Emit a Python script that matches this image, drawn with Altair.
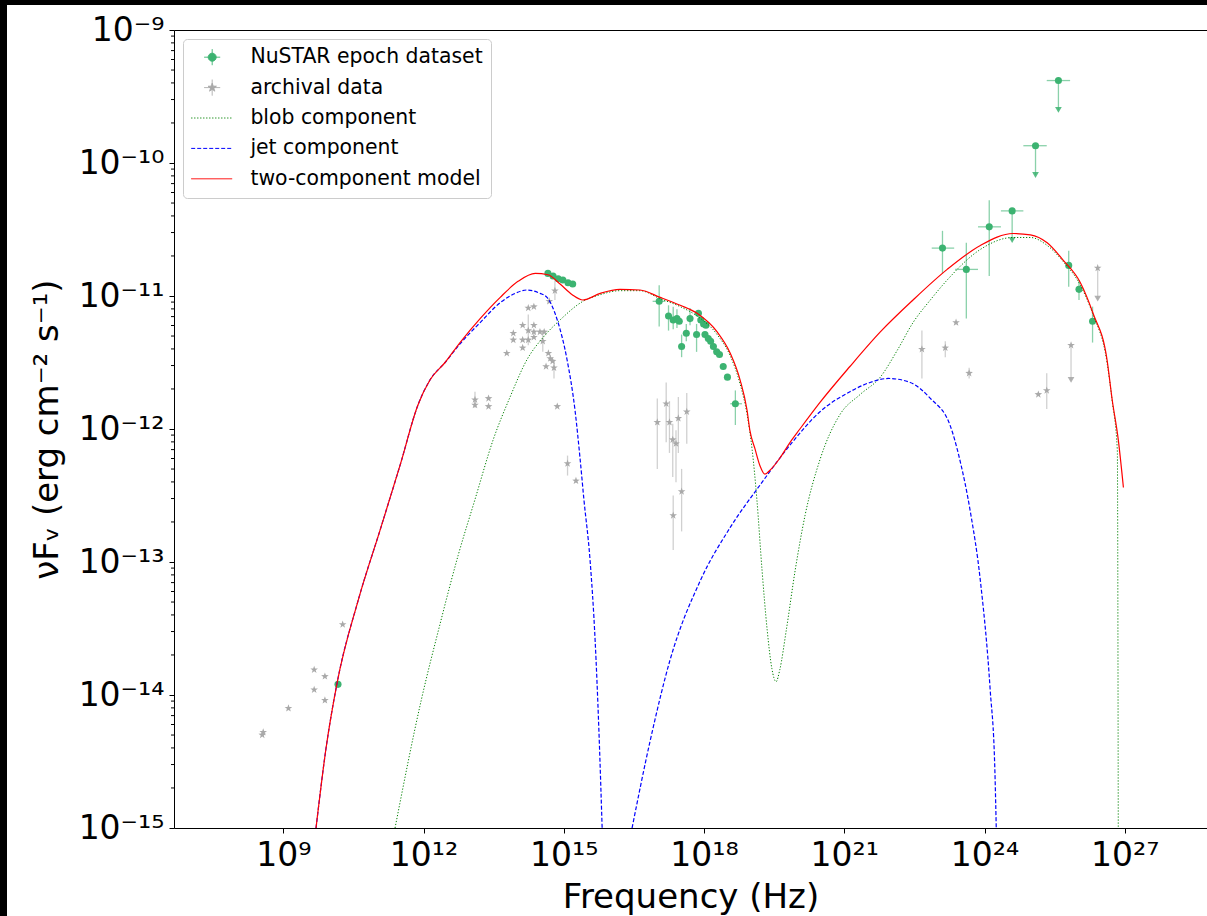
import altair as alt
import pandas as pd

# ---------------- axis ranges / ticks ----------------
X_MIN_EXP, X_MAX_EXP = 6.662, 28.758
Y_MIN, Y_MAX = 1e-15, 1e-9
x_tick_exps = [9, 12, 15, 18, 21, 24, 27]
x_tick_labels = ["10⁹", "10¹²", "10¹⁵", "10¹⁸", "10²¹", "10²⁴", "10²⁷"]
y_tick_exps = [-15, -14, -13, -12, -11, -10, -9]
y_tick_labels = ["10⁻¹⁵", "10⁻¹⁴", "10⁻¹³", "10⁻¹²", "10⁻¹¹", "10⁻¹⁰", "10⁻⁹"]
y_minor_mult = [2, 3, 4, 5, 6, 7, 8, 9]
y_minor_decades = [-15, -14, -13, -12, -11, -10]

# ---------------- model curves (log10 nu, log10 nuFnu) ----------------
model_lognu = [9.70, 9.91, 10.15, 10.60, 11.07, 11.50, 11.88, 12.14, 12.46, 12.78, 13.21, 13.64,
               14.02, 14.39, 14.66, 14.92, 15.18, 15.41, 15.78, 16.20, 16.63, 17.06, 17.49, 17.85,
               18.28, 18.56, 18.77, 18.92, 18.98, 19.09, 19.20, 19.30, 19.41, 19.62, 19.84, 20.05,
               20.48, 21.12, 21.77, 22.47, 23.20, 23.91, 24.61, 24.98, 25.34, 25.68, 26.05, 26.32,
               26.62, 26.73, 26.86, 26.97]
model_logf = [-15.00, -14.41, -13.91, -13.29, -12.76, -12.27, -11.82, -11.63, -11.50, -11.35, -11.17, -11.01,
              -10.89, -10.83, -10.84, -10.91, -10.99, -11.03, -10.98, -10.95, -10.955, -11.01, -11.07, -11.13,
              -11.27, -11.43, -11.63, -11.86, -12.01, -12.15, -12.28, -12.34, -12.31, -12.22, -12.10, -12.00,
              -11.80, -11.53, -11.27, -11.03, -10.80, -10.62, -10.53, -10.54, -10.60, -10.73, -10.90, -11.13,
              -11.48, -11.78, -12.08, -12.44]

jet1_lognu = [9.70, 9.91, 10.15, 10.60, 11.07, 11.50, 11.88, 12.14, 12.46, 12.78, 13.21, 13.64, 13.96,
              14.21, 14.49, 14.64, 14.86, 15.07, 15.24, 15.35, 15.43, 15.56, 15.67, 15.75, 15.82]
jet1_logf = [-15.00, -14.41, -13.91, -13.29, -12.76, -12.27, -11.82, -11.63, -11.50, -11.36, -11.20, -11.05, -10.98,
             -10.955, -10.98, -11.01, -11.18, -11.48, -11.86, -12.23, -12.53, -12.98, -13.59, -14.26, -15.00]
jet2_lognu = [16.46, 16.85, 17.27, 17.92, 18.56, 19.20, 19.84, 20.48, 21.12, 21.55, 21.94, 22.41, 22.84,
              23.26, 23.47, 23.69, 23.91, 24.12, 24.22, 24.25]
jet2_logf = [-15.00, -14.34, -13.74, -13.14, -12.74, -12.42, -12.12, -11.87, -11.72, -11.65, -11.62, -11.65, -11.77,
             -11.97, -12.23, -12.61, -13.14, -13.96, -14.56, -15.00]

blob_lognu = [11.39, 11.95, 12.35, 12.74, 13.10, 13.49, 13.85, 14.21, 14.56, 14.92, 15.41, 15.78, 16.20, 16.63,
              17.06, 17.49, 17.85, 18.28, 18.56, 18.77, 18.92, 19.03, 19.13, 19.24, 19.35, 19.45, 19.54, 19.62,
              19.76, 19.95, 20.16, 20.48, 20.91, 21.34, 21.77, 22.13, 22.47, 22.84, 23.20, 23.91, 24.61, 24.98,
              25.34, 25.68, 26.05, 26.32, 26.62, 26.73, 26.84, 26.86]
blob_logf = [-15.00, -14.04, -13.47, -12.95, -12.53, -12.08, -11.76, -11.48, -11.31, -11.18, -11.04, -10.99, -10.96, -10.96,
             -11.02, -11.08, -11.15, -11.29, -11.45, -11.66, -11.89, -12.16, -12.53, -13.06, -13.51, -13.80, -13.90, -13.81,
             -13.51, -13.06, -12.65, -12.23, -11.89, -11.74, -11.61, -11.41, -11.20, -11.03, -10.88, -10.65, -10.56, -10.56,
             -10.62, -10.74, -10.92, -11.14, -11.50, -11.79, -12.16, -15.00]

# ---------------- NuSTAR epoch dataset ----------------
nustar_lognu = [10.17, 14.66, 14.77, 14.88, 14.98, 15.09, 15.19,
                17.04, 17.24, 17.34, 17.42, 17.47, 17.52, 17.62, 17.70, 17.84, 17.88, 17.93, 17.99, 18.04, 18.02,
                18.09, 18.14, 18.20, 18.27, 18.33, 18.41, 18.50, 18.67,
                23.10, 23.61, 24.10, 24.59, 25.09, 25.58, 25.80, 26.02, 26.31]
nustar_logf = [-13.92, -10.83, -10.85, -10.87, -10.88, -10.90, -10.91,
               -11.04, -11.15, -11.18, -11.17, -11.19, -11.38, -11.28, -11.17, -11.29, -11.13, -11.18, -11.21, -11.22, -11.29,
               -11.32, -11.34, -11.38, -11.42, -11.44, -11.53, -11.61, -11.81,
               -10.64, -10.80, -10.48, -10.36, -9.87, -9.38, -10.77, -10.95, -11.19]
nustar_logf_lo = [None] * 7 + [-11.23, -11.26, -11.25, -11.24, None, -11.46, -11.34, -11.22, -11.42] + [None] * 12 + [-11.97] + \
                 [-10.83, -11.17, -10.85, -10.58, -10.09, -9.60, -10.93, -11.03, -11.35]
nustar_logf_hi = [None] * 7 + [-10.92, -11.07, -11.08, -11.10, None, -11.29, -11.21, -11.09, -11.21] + [None] * 12 + [-11.71] + \
                 [-10.51, -10.60, -10.28, -10.36, -9.87, -9.38, -10.66, -10.88, -11.08]
nustar_lognu_lo = [None] * 7 + [16.90] + [None] * 20 + [18.56] + [22.87, 23.37, 23.86, 24.35, 24.83, 25.33, None, None, None]
nustar_lognu_hi = [None] * 7 + [17.17] + [None] * 20 + [18.81] + [23.35, 23.86, 24.35, 24.83, 25.33, 25.83, None, None, None]
nustar_uplim = [False] * 32 + [True, True, True] + [False] * 3

# ---------------- archival data ----------------
arch_lognu = [8.55, 8.57, 9.11, 9.66, 9.89, 9.66, 9.89, 10.27,
              13.10, 13.10, 13.39, 13.39, 13.78, 13.92, 13.92, 14.12, 14.12, 14.12, 14.24, 14.36, 14.24, 14.24,
              14.36, 14.36, 14.36, 14.49, 14.58, 14.55, 14.69, 14.81, 14.67, 14.71, 14.76, 14.62, 14.79, 14.86,
              15.08, 15.26,
              17.00, 17.19, 17.26, 17.33, 17.40, 17.45, 17.63, 17.52, 17.34,
              22.66, 23.16, 23.39, 23.67, 25.15, 25.33, 25.85, 26.42]
arch_logf = [-14.30, -14.28, -14.10, -13.81, -13.86, -13.96, -14.04, -13.47,
             -11.78, -11.82, -11.77, -11.83, -11.43, -11.28, -11.33, -11.22, -11.33, -11.39, -11.09, -11.08, -11.26, -11.33,
             -11.22, -11.27, -11.31, -11.27, -11.27, -11.34, -11.04, -10.96, -11.43, -11.47, -11.49, -11.53, -11.54, -11.83,
             -12.26, -12.39,
             -11.95, -11.81, -11.95, -12.08, -12.11, -11.92, -11.87, -12.47, -12.65,
             -11.40, -11.39, -11.20, -11.58, -11.74, -11.71, -11.37, -10.79]
arch_logf_lo = [None] * 8 + \
               [-11.84, None, None, None, None, None, None, None, None, None, None, None, -11.37, None, None, None, None,
                None, None, -11.42, None, -11.03, None, None, None, None, -11.62, None, -12.35, None] + \
               [-12.30, -12.10, -12.18, -12.36, -12.40, -12.18, -12.11, -12.77, -12.91] + \
               [-11.62, -11.46, None, -11.62, None, -11.85, -11.63, -11.02]
arch_logf_hi = [None] * 8 + \
               [-11.72, None, None, None, None, None, None, None, None, None, None, None, -11.14, None, None, None, None,
                None, None, -11.27, None, -10.88, None, None, None, None, -11.48, None, -12.20, None] + \
               [-11.77, -11.65, -11.79, -11.96, -12.01, -11.76, -11.73, -12.30, -12.50] + \
               [-11.26, -11.34, None, -11.54, None, -11.58, -11.37, -10.79]
arch_uplim = [False] * 53 + [True, True]

# ---------------- legend ----------------
legend_names = ["NuSTAR epoch dataset", "archival data", "blob component", "jet component", "two-component model"]
legend_colors = ["#3cb371", "#a9a9a9", "green", "blue", "red"]
legend_dashes = [[1, 0], [1, 0], [1.2, 1.8], [4, 2], [1, 0]]
CIRCLE_SYM = "M0.375,0H2.375M1.375,-1V1M1.875,0A0.5,0.5,0,1,1,0.875,0A0.5,0.5,0,1,1,1.875,0Z"
STAR_SYM = ("M0.375,0H2.375M1.375,-1V1"
            "M1.375,-0.55L1.504,-0.178L1.898,-0.170L1.584,0.068L1.698,0.445L1.375,0.22"
            "L1.052,0.445L1.166,0.068L0.852,-0.170L1.246,-0.178Z")
LINE_SYM = "M-1.25,0H3.875"
legend_shapes = [CIRCLE_SYM, STAR_SYM, LINE_SYM, LINE_SYM, LINE_SYM]
STAR_PATH = ("M0,-1L0.235,-0.324L0.951,-0.309L0.380,0.124L0.588,0.809L0,0.4"
             "L-0.588,0.809L-0.380,0.124L-0.951,-0.309L-0.235,-0.324Z")

PLOT_W, PLOT_H = 1033, 798
PAD_L, PAD_T, PAD_B = 174, 30, 88


def p10(values):
    return [None if v is None else 10.0 ** v for v in values]


blob_df = pd.DataFrame({"nu": p10(blob_lognu), "f": p10(blob_logf)})
jet_df = pd.concat([
    pd.DataFrame({"nu": p10(jet1_lognu), "f": p10(jet1_logf), "seg": 1}),
    pd.DataFrame({"nu": p10(jet2_lognu), "f": p10(jet2_logf), "seg": 2}),
])
model_df = pd.DataFrame({"nu": p10(model_lognu), "f": p10(model_logf)})

nus_df = pd.DataFrame({
    "nu": p10(nustar_lognu), "f": p10(nustar_logf),
    "flo": p10(nustar_logf_lo), "fhi": p10(nustar_logf_hi),
    "nulo": p10(nustar_lognu_lo), "nuhi": p10(nustar_lognu_hi),
    "ul": nustar_uplim,
})
arc_df = pd.DataFrame({
    "nu": p10(arch_lognu), "f": p10(arch_logf),
    "flo": p10(arch_logf_lo), "fhi": p10(arch_logf_hi),
    "ul": arch_uplim,
})
minor_df = pd.DataFrame({"v": [m * 10.0 ** d for d in y_minor_decades for m in y_minor_mult]})
legend_df = pd.DataFrame({"series": legend_names})
one_df = pd.DataFrame({"k": [0]})

# ---------------- scales / axes ----------------
xscale = alt.Scale(type="log", domain=[10 ** X_MIN_EXP, 10 ** X_MAX_EXP], nice=False)
yscale = alt.Scale(type="log", domain=[Y_MIN, Y_MAX], nice=False)


def lab_expr(exps, labels):
    expr = "''"
    for e, l in zip(exps, labels):
        expr = f"round(log(datum.value)/LN10) == {e} ? '{l}' : ({expr})"
    return expr


xaxis = alt.Axis(values=[10.0 ** e for e in x_tick_exps], labelExpr=lab_expr(x_tick_exps, x_tick_labels),
                 labelPadding=6, titlePadding=8)
yaxis = alt.Axis(values=[10.0 ** e for e in y_tick_exps], labelExpr=lab_expr(y_tick_exps, y_tick_labels),
                 labelPadding=5, titlePadding=14)
XT = "Frequency (Hz)"
YT = "νFᵥ (erg cm⁻² s⁻¹)"


def X(field):
    return alt.X(f"{field}:Q", scale=xscale, axis=xaxis, title=XT)


def Y(field):
    return alt.Y(f"{field}:Q", scale=yscale, axis=yaxis, title=YT)


GREEN = "#3cb371"
GRAY = "#a9a9a9"

# NuSTAR
nus_yerr = alt.Chart(nus_df).transform_filter("isValid(datum.flo)").mark_rule(
    color=GREEN, opacity=0.6, strokeWidth=1.3).encode(x=X("nu"), y=Y("flo"), y2="fhi:Q")
nus_xerr = alt.Chart(nus_df).transform_filter("isValid(datum.nulo)").mark_rule(
    color=GREEN, opacity=0.6, strokeWidth=1.3).encode(x=X("nulo"), x2="nuhi:Q", y=Y("f"))
nus_ul = alt.Chart(nus_df).transform_filter("datum.ul").mark_point(
    shape="triangle-down", filled=True, color=GREEN, opacity=0.85, size=45).encode(x=X("nu"), y=Y("flo"))
nus_pts = alt.Chart(nus_df).mark_circle(color=GREEN, opacity=1, size=50).encode(x=X("nu"), y=Y("f"))

# archival
arc_yerr = alt.Chart(arc_df).transform_filter("isValid(datum.flo)").mark_rule(
    color=GRAY, opacity=0.55, strokeWidth=1.3).encode(x=X("nu"), y=Y("flo"), y2="fhi:Q")
arc_ul = alt.Chart(arc_df).transform_filter("datum.ul").mark_point(
    shape="triangle-down", filled=True, color=GRAY, opacity=0.9, size=45).encode(x=X("nu"), y=Y("flo"))
arc_pts = alt.Chart(arc_df).mark_point(shape=STAR_PATH, filled=True, color=GRAY, opacity=1, size=64,
                                        strokeWidth=0).encode(x=X("nu"), y=Y("f"))

# model lines
blob_line = alt.Chart(blob_df).mark_line(color="green", strokeWidth=1, strokeDash=[1.2, 1.8], clip=True,
                                         interpolate="monotone").encode(x=X("nu"), y=Y("f"))
jet_line = alt.Chart(jet_df).mark_line(color="blue", strokeWidth=1.2, strokeDash=[4, 2], clip=True,
                                       interpolate="monotone").encode(x=X("nu"), y=Y("f"), detail="seg:N")
model_line = alt.Chart(model_df).mark_line(color="red", strokeWidth=1.2, clip=True,
                                           interpolate="monotone").encode(x=X("nu"), y=Y("f"))

# minor y ticks
minor_ticks = alt.Chart(minor_df).mark_rule(color="black", strokeWidth=1).encode(
    y=Y("v"), x=alt.value(-3), x2=alt.value(0))

# dark strips along the top and left edges of the reference picture
edge_top = alt.Chart(one_df).mark_rect(color="black").encode(
    x=alt.value(-PAD_L), x2=alt.value(PLOT_W), y=alt.value(-PAD_T), y2=alt.value(-PAD_T + 5))
edge_left = alt.Chart(one_df).mark_rect(color="black").encode(
    x=alt.value(-PAD_L), x2=alt.value(-PAD_L + 7), y=alt.value(-PAD_T), y2=alt.value(PLOT_H + PAD_B))

# legend (no marks, legend only)
leg_kw = dict(domain=legend_names)
legend_layer = alt.Chart(legend_df).transform_filter("false").mark_point(opacity=1, strokeWidth=1).encode(
    fill=alt.Fill("series:N", scale=alt.Scale(range=legend_colors, **leg_kw), title=None),
    stroke=alt.Stroke("series:N", scale=alt.Scale(range=legend_colors, **leg_kw), title=None),
    shape=alt.Shape("series:N", scale=alt.Scale(range=legend_shapes, **leg_kw), title=None),
    strokeDash=alt.StrokeDash("series:N", scale=alt.Scale(range=legend_dashes, **leg_kw), title=None),
)

chart = alt.layer(
    nus_yerr, nus_xerr, nus_ul, nus_pts,
    arc_yerr, arc_ul, arc_pts,
    blob_line, jet_line, model_line,
    minor_ticks, edge_top, edge_left, legend_layer,
).properties(
    width=PLOT_W, height=PLOT_H,
    padding={"left": PAD_L, "top": PAD_T, "right": 0, "bottom": PAD_B},
    autosize=alt.AutoSizeParams(type="none"),
    background="white",
).configure(
    font="DejaVu Sans",
).configure_view(
    stroke="black", strokeWidth=1,
).configure_axis(
    domain=False, grid=False, tickColor="black", tickWidth=1, tickSize=5,
    labelColor="black", labelFont="DejaVu Sans", labelFontSize=33,
    titleFont="DejaVu Sans", titleFontSize=34, titleFontWeight="normal", titleColor="black",
    labelFlush=False, labelOverlap=False,
).configure_legend(
    orient="none", legendX=9, legendY=9, padding=8,
    fillColor="white", strokeColor="#cccccc", cornerRadius=4,
    labelFont="DejaVu Sans", labelFontSize=20.4, labelColor="black", labelLimit=400,
    labelOffset=39, rowPadding=9.4, symbolSize=256, symbolStrokeWidth=1,
)

chart.save("out.html", embed_options={"renderer": "svg", "actions": False})
